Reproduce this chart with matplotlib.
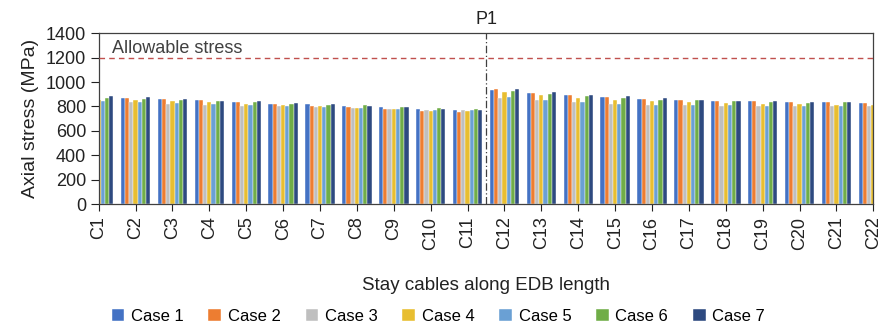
import matplotlib
matplotlib.use("Agg")
import matplotlib.pyplot as plt
import numpy as np

plt.rcParams['font.family'] = ['Liberation Sans', 'DejaVu Sans']

categories = [f"C{i}" for i in range(1, 23)]
series_names = ["Case 1", "Case 2", "Case 3", "Case 4", "Case 5", "Case 6", "Case 7"]

case1 = [870, 870, 862, 849, 835, 824, 817, 802, 794, 780, 772, 939, 909, 892, 876, 862, 851, 846, 841, 835, 833, 827]
case2 = [873, 873, 862, 849, 835, 819, 806, 794, 780, 764, 756, 941, 912, 892, 876, 862, 851, 846, 841, 835, 833, 827]
case3 = [833, 833, 824, 816, 805, 800, 795, 786, 778, 772, 770, 870, 849, 833, 819, 816, 811, 802, 805, 805, 805, 805]
case4 = [857, 857, 843, 833, 819, 811, 800, 786, 778, 764, 759, 917, 892, 870, 851, 841, 833, 827, 819, 819, 816, 816]
case5 = [846, 835, 827, 819, 811, 802, 795, 786, 780, 772, 767, 876, 849, 835, 821, 816, 811, 811, 805, 805, 805, 805]
case6 = [873, 865, 851, 843, 835, 824, 816, 808, 794, 789, 780, 930, 901, 884, 868, 857, 849, 841, 835, 830, 833, 830]
case7 = [884, 876, 862, 846, 842, 830, 817, 802, 794, 780, 772, 947, 917, 898, 882, 868, 857, 846, 841, 835, 833, 833]
series = [case1, case2, case3, case4, case5, case6, case7]

allowable = 1200
p1_position = 10.5

colors = ["#4472C4", "#ED7D31", "#BFBFBF", "#E8BE30", "#6AA0D4", "#70AD47", "#2E4A80"]

fig = plt.figure(figsize=(8.82, 3.28), dpi=100)
ax = fig.add_axes([0.1119, 0.378, 0.8783, 0.5205])

x = np.arange(len(categories))
n = len(series)
w = 0.114
for i, (vals, name, c) in enumerate(zip(series, series_names, colors)):
    ax.bar(x + (i - (n - 1) / 2) * w, vals, width=w, color=c, label=name,
           edgecolor="white", linewidth=0.3, zorder=2)

ax.axhline(allowable, color="#C0504D", linestyle=(0, (4, 3)), linewidth=1.0, zorder=3)
ax.text(0.35, allowable + 8, "Allowable stress", fontsize=13, color="#404040",
        va="bottom", ha="left")
ax.axvline(p1_position, color="#404040", linestyle=(0, (6, 2, 1, 2)), linewidth=0.9, zorder=3)
ax.text(p1_position, 1400 + 45, "P1", fontsize=13, ha="center", va="bottom", color="#222222")

ax.set_xlim(0, len(categories) - 1)
ax.set_ylim(0, 1400)
ax.set_yticks(np.arange(0, 1401, 200))
ax.set_xticks(x)
ax.set_xticklabels(categories, rotation=90, fontsize=13)
ax.tick_params(axis='y', labelsize=13, direction='out', length=6, width=0.8, colors="#222222", pad=3)
ax.tick_params(axis='x', direction='out', length=5, width=0.8, colors="#222222", pad=4)
for s in ax.spines.values():
    s.set_color("#404040")
    s.set_linewidth(0.9)

ax.set_ylabel("Axial stress (MPa)", fontsize=14, color="#222222", labelpad=5)
ax.set_xlabel("Stay cables along EDB length", fontsize=13.5, color="#222222", labelpad=20)

handles, labels = ax.get_legend_handles_labels()
fig.legend(handles, labels, loc="center", bbox_to_anchor=(0.497, 0.036), ncol=7,
           frameon=False, fontsize=12, handlelength=0.75, handleheight=0.75,
           handletextpad=0.4, columnspacing=1.5)

fig.savefig("out.png", dpi=100)
